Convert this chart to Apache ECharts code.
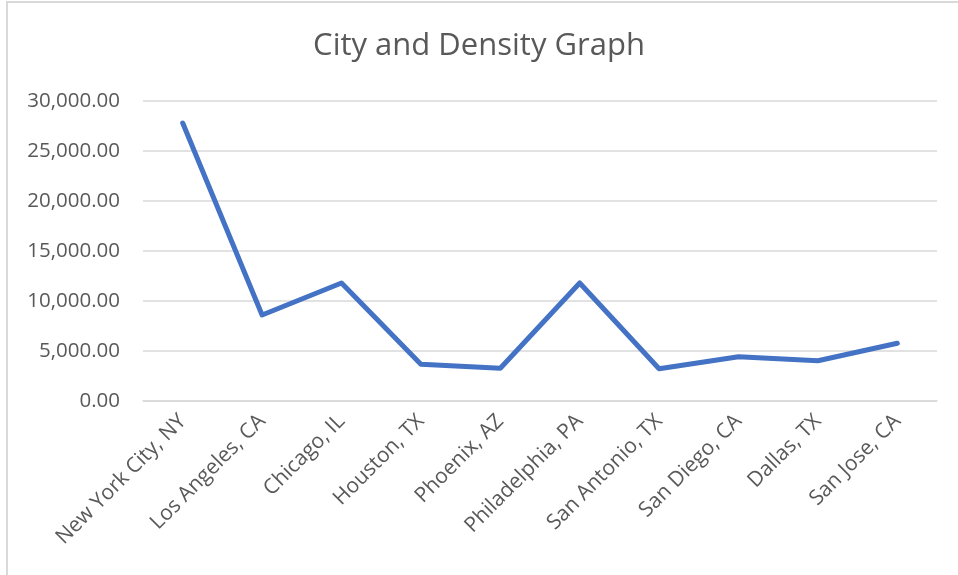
<!DOCTYPE html>
<html>
<head>
<meta charset="utf-8">
<script src="https://cdn.jsdelivr.net/npm/echarts@6/dist/echarts.min.js"></script>
<style>
  html, body { margin: 0; padding: 0; background: #ffffff; }
  #chart { width: 958px; height: 575px; }
</style>
</head>
<body>
<div id="chart"></div>
<script>
// 城市名称
const cities = [
  'New York City, NY', 'Los Angeles, CA', 'Chicago, IL', 'Houston, TX', 'Phoenix, AZ',
  'Philadelphia, PA', 'San Antonio, TX', 'San Diego, CA', 'Dallas, TX', 'San Jose, CA'
]
// 人口密度
const density = [27800, 8600, 11800, 3670, 3270, 11800, 3230, 4430, 4030, 5770]
// 纵轴刻度
const yMin = 0
const yMax = 30000
const yStep = 5000

const chart = echarts.init(document.getElementById('chart'))

const option = {
  backgroundColor: '#ffffff',
  animation: false,
  title: {
    text: 'City and Density Graph',
    left: 'center',
    top: 26,
    textStyle: {
      fontFamily: 'Open Sans',
      fontWeight: 'normal',
      fontSize: 31,
      color: '#595959'
    }
  },
  // 外框
  graphic: [{
    type: 'rect',
    shape: { x: 7, y: 2, width: 1000, height: 1000 },
    style: { fill: 'none', stroke: '#d9d9d9', lineWidth: 2 },
    silent: true
  }],
  grid: {
    left: 143,
    right: 21,
    top: 101,
    bottom: 174,
    containLabel: false
  },
  xAxis: {
    type: 'category',
    data: cities,
    boundaryGap: true,
    axisLine: { lineStyle: { color: '#d9d9d9', width: 1.5 } },
    axisTick: { show: false },
    axisLabel: {
      rotate: 45,
      interval: 0,
      margin: 17,
      fontFamily: 'Open Sans',
      fontSize: 21,
      color: '#595959'
    }
  },
  yAxis: {
    type: 'value',
    min: yMin,
    max: yMax,
    interval: yStep,
    axisLine: { show: false },
    axisTick: { show: false },
    axisLabel: {
      margin: 23,
      fontFamily: 'Open Sans',
      fontSize: 20.5,
      color: '#595959',
      formatter: function (v) {
        return v.toLocaleString('en-US', { minimumFractionDigits: 2, maximumFractionDigits: 2 })
      }
    },
    splitLine: { lineStyle: { color: '#d9d9d9', width: 1.5 } }
  },
  series: [{
    name: 'Density',
    type: 'line',
    data: density,
    symbol: 'none',
    lineStyle: { color: '#4472c4', width: 5, cap: 'round', join: 'round' }
  }]
}

chart.setOption(option)
</script>
</body>
</html>
